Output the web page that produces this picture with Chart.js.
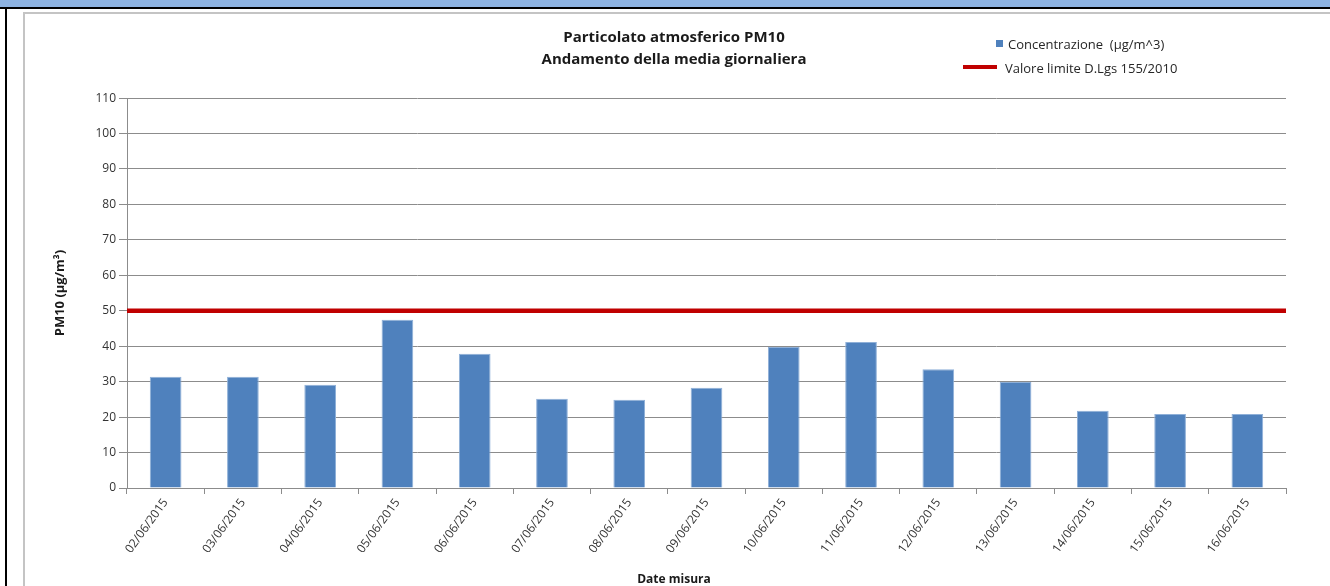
<!DOCTYPE html>
<html><head><meta charset="utf-8">
<script src="https://cdn.jsdelivr.net/npm/chart.js@4/dist/chart.umd.min.js"></script>
<style>
html,body{margin:0;padding:0;width:1330px;height:586px;overflow:hidden;background:#fff;font-family:'Open Sans',sans-serif;}
#hdr{position:absolute;left:0;top:0;width:1330px;height:7px;background:#8db3e2;}
#hdrline{position:absolute;left:0;top:7px;width:1330px;height:2px;background:#000;}
#lline{position:absolute;left:5px;top:9px;width:2px;height:577px;background:#000;}
#frame{position:absolute;left:23px;top:12px;width:1307px;height:600px;border-left:2px solid #c4c4c4;border-top:2px solid #c4c4c4;}
#wrap{position:absolute;left:25px;top:14px;width:1298px;height:600px;}
.lg{position:absolute;font-size:13px;color:#262626;white-space:pre;line-height:16px;}
.lg i{position:absolute;display:block;}
</style></head>
<body>
<div id="hdr"></div><div id="hdrline"></div><div id="lline"></div><div id="frame"></div>
<div id="wrap"><canvas id="c" width="1298" height="600"></canvas></div>
<div id="legend"></div>
<script>
// ---- data ----
const categories = ['02/06/2015','03/06/2015','04/06/2015','05/06/2015','06/06/2015','07/06/2015','08/06/2015','09/06/2015','10/06/2015','11/06/2015','12/06/2015','13/06/2015','14/06/2015','15/06/2015','16/06/2015'];
const concentrazione = [31.4, 31.4, 29.1, 47.5, 37.9, 25.2, 24.9, 28.3, 39.8, 41.2, 33.5, 29.9, 21.8, 20.9, 20.9];
const limite = 50;
const yMin = 0, yMax = 110, yStep = 10;
const seriesLabels = ['Concentrazione  (µg/m^3)', 'Valore limite D.Lgs 155/2010'];
const titleLines = ['Particolato atmosferico PM10', 'Andamento della media giornaliera'];
const xTitle = 'Date misura';
const yTitle = 'PM10 (µg/m³)';

const GRID = '#8c8c8c';
const FONT = "'Open Sans', sans-serif";
const limitLabels = [categories[0], categories[categories.length - 1]];

const chart = new Chart(document.getElementById('c'), {
  type: 'bar',
  data: {
    labels: categories,
    datasets: [
      {
        label: seriesLabels[0],
        data: concentrazione,
        xAxisID: 'x',
        backgroundColor: '#4f81bd',
        borderColor: '#8fb0d8',
        borderWidth: 1,
        barPercentage: 0.41,
        categoryPercentage: 1,
        grouped: false,
        order: 1
      },
      {
        type: 'line',
        label: seriesLabels[1],
        data: limitLabels.map(() => limite),
        xAxisID: 'xl',
        borderColor: '#c00000',
        backgroundColor: '#c00000',
        borderWidth: 4.5,
        pointRadius: 0,
        fill: false,
        order: 0
      }
    ]
  },
  options: {
    responsive: false,
    animation: false,
    devicePixelRatio: 1,
    layout: {padding: 0},
    plugins: {
      legend: {display: false},
      tooltip: {enabled: false},
      title: {
        display: true,
        text: titleLines,
        color: '#1a1a1a',
        font: {family: FONT, size: 15, weight: 'bold', lineHeight: 1.47},
        padding: {top: 13, bottom: 27}
      },
      subtitle: {
        display: true,
        position: 'bottom',
        text: xTitle,
        color: '#1a1a1a',
        font: {family: FONT, size: 12, weight: 'bold', lineHeight: 1.2},
        padding: {top: 0, bottom: 27}
      }
    },
    scales: {
      x: {
        type: 'category',
        offset: true,
        grid: {display: true, drawOnChartArea: false, drawTicks: true, tickLength: 6, offset: true, color: GRID, lineWidth: 1},
        border: {display: true, color: GRID, width: 1},
        ticks: {minRotation: 54, maxRotation: 54, autoSkip: false, color: '#333', padding: 2, font: {family: FONT, size: 12}},
        afterFit: s => { s.height = 84.6; }
      },
      xl: {
        type: 'category', labels: limitLabels, offset: false, display: false,
        grid: {offset: false}
      },
      y: {
        min: yMin, max: yMax,
        grid: {color: GRID, lineWidth: 1, tickLength: 8, drawTicks: true},
        border: {display: true, color: GRID, width: 1},
        ticks: {stepSize: yStep, color: '#333', padding: 3, font: {family: FONT, size: 12}},
        title: {display: true, text: yTitle, color: '#1a1a1a', font: {family: FONT, size: 13, weight: 'bold', lineHeight: 1.2}, padding: {top: 27, bottom: 0}},
        afterFit: s => { s.width = 102; }
      },
      yr: {
        position: 'right', min: 0, max: 1,
        grid: {display: false, drawOnChartArea: false},
        border: {display: false},
        ticks: {display: false},
        afterFit: s => { s.width = 37; }
      }
    }
  }
});

// HTML legend built from the datasets
const lg = document.getElementById('legend');
const barDs = chart.data.datasets[0], lineDs = chart.data.datasets[1];
const it1 = document.createElement('div');
it1.className = 'lg'; it1.style.left = '1008px'; it1.style.top = '36px';
it1.innerHTML = '<i style="left:-12px;top:4px;width:7px;height:7px;background:' + barDs.backgroundColor + '"></i>';
it1.appendChild(document.createTextNode(barDs.label));
const it2 = document.createElement('div');
it2.className = 'lg'; it2.style.left = '1005px'; it2.style.top = '60px';
it2.innerHTML = '<i style="left:-42px;top:5px;width:34px;height:4px;background:' + lineDs.borderColor + '"></i>';
it2.appendChild(document.createTextNode(lineDs.label));
lg.appendChild(it1); lg.appendChild(it2);
</script>
</body></html>
